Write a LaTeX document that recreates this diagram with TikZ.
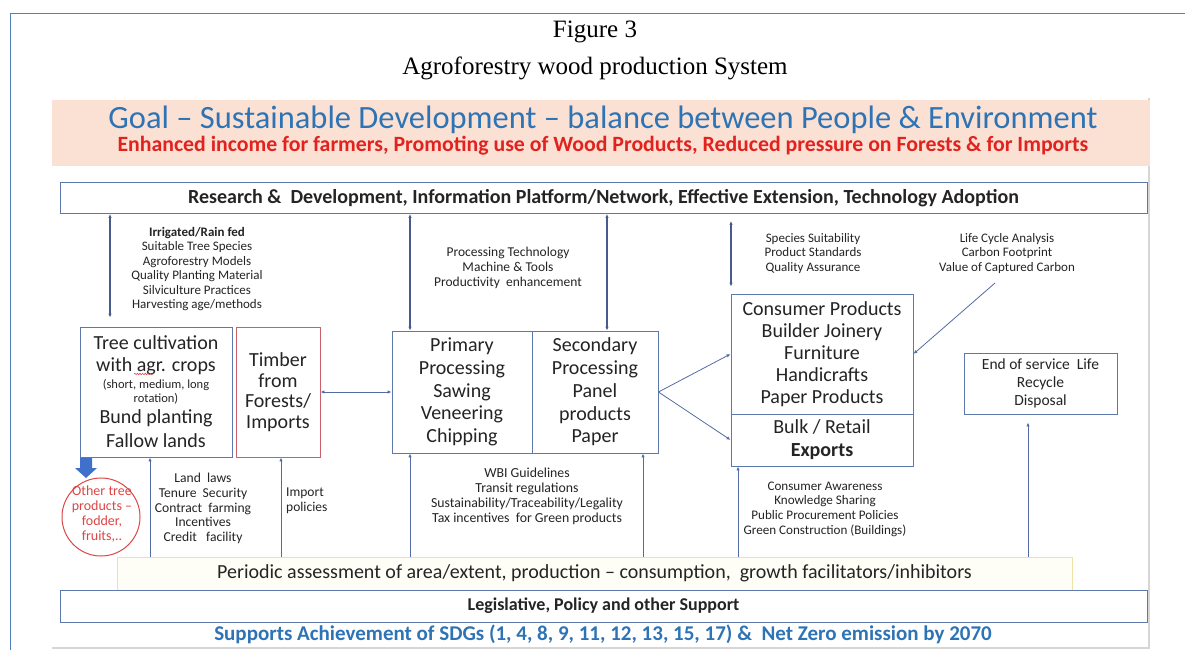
\documentclass[tikz,border=0pt]{standalone}
\usepackage{fontspec}
\setmainfont{Carlito}
\newfontfamily\titlefont{Liberation Serif}
\usetikzlibrary{arrows.meta,decorations.pathmorphing,calc}

\definecolor{frameblue}{RGB}{79,129,189}
\definecolor{goalfill}{RGB}{251,225,212}
\definecolor{goalblue}{RGB}{46,116,181}
\definecolor{goalred}{RGB}{226,34,30}
\definecolor{boxline}{RGB}{92,120,172}
\definecolor{linkline}{RGB}{84,108,165}
\definecolor{ink}{RGB}{36,36,36}
\definecolor{timberred}{RGB}{204,96,104}
\definecolor{otherred}{RGB}{222,70,70}
\definecolor{assessline}{RGB}{240,226,165}
\definecolor{assessfill}{RGB}{255,254,246}
\definecolor{arrowblue}{RGB}{62,112,204}
\definecolor{slideedge}{RGB}{214,214,214}

\newcommand\fsz[2]{\fontsize{#1}{#2}\selectfont}

\begin{document}
\begin{tikzpicture}[x=1pt,y=-1pt,
  box/.style={draw=boxline, line width=0.9pt, inner sep=0pt, align=center,
    text=ink, font=\fsz{20}{22.5}},
  note/.style={align=center, text=ink, inner sep=0pt, font=\fsz{13}{14.5}},
  tip/.tip={Latex[length=4pt,width=3.4pt]},
  link/.style={draw=linkline, line width=0.8pt, -tip},
  dlink/.style={draw=linkline!85!black, line width=1.2pt, tip-tip},
]
\useasboundingbox[fill=white] (0,0) rectangle (1185,668);

% page frame and slide edge
\draw[frameblue, line width=1pt] (10,650) -- (10,14) -- (1185,14);
\draw[slideedge, line width=1.2pt] (1149,98) -- (1149,648) -- (52,648);

% titles
\node[font=\titlefont\fsz{25}{28}, text=black] (fig) at (595,32) {Figure 3};
\node[font=\titlefont\fsz{25}{28}, text=black] (title) at (595,68) {Agroforestry wood production System};

% goal band
\node[fill=goalfill, minimum width=1098pt, minimum height=66pt, inner sep=0pt] (band) at (601,133) {};
\node[text=goalblue, font=\fsz{32.5}{34}] (goal) at (603,120)
  {Goal -- Sustainable Development -- balance between People \& Environment};
\node[text=goalred, font=\bfseries\fsz{21.8}{23}] (aims) at (603,146)
  {Enhanced income for farmers, Promoting use of Wood Products, Reduced pressure on Forests \& for Imports};

% research band
\node[box, minimum width=1087pt, minimum height=31pt, font=\bfseries\fsz{20}{22}] (rd) at (603.5,198)
  {Research \&\ \ Development, Information Platform/Network, Effective Extension, Technology Adoption};

% upper notes
\node[note] (irr) at (197,269) {\textbf{Irrigated/Rain fed}\\Suitable Tree Species\\Agroforestry Models\\Quality Planting Material\\Silviculture Practices\\Harvesting age/methods};
\node[note, font=\fsz{13.5}{14.8}] (proc) at (508,268) {Processing Technology\\Machine \& Tools\\Productivity\ \ enhancement};
\node[note] (spec) at (813,253.5) {Species Suitability\\Product Standards\\Quality Assurance};
\node[note] (lca) at (1007,253.5) {Life Cycle Analysis\\Carbon Footprint\\Value of Captured Carbon};

% main chain
\node[box, minimum width=152pt, minimum height=130pt] (tree) at (156,392) {};
\node[text=ink, font=\fsz{20}{22}] (tc1) at (156,343) {Tree cultivation};
\node[text=ink, font=\fsz{20}{22}] (tc2) at (156,366) {with agr. crops};
\node[text=ink, font=\fsz{12.5}{14}] (tc3) at (156,385) {(short, medium, long};
\node[text=ink, font=\fsz{12.5}{14}] (tc4) at (156,399) {rotation)};
\node[text=ink, font=\fsz{20}{22}] (tc5) at (156,418) {Bund planting};
\node[text=ink, font=\fsz{20}{22}] (tc6) at (156,441) {Fallow lands};
\draw[otherred, line width=0.6pt, decorate, decoration={snake, amplitude=0.7pt, segment length=2.6pt}] (134,374) -- (153,374);

\node[box, draw=timberred, minimum width=84pt, minimum height=130pt, font=\fsz{20}{20.5}] (timber) at (278,392) {Timber\\from\\Forests/\\Imports};
\node[box, minimum width=140pt, minimum height=122pt, font=\fsz{20}{22.7}] (prim) at (462,392) {Primary\\Processing\\Sawing\\Veneering\\Chipping};
\node[box, minimum width=126pt, minimum height=122pt, font=\fsz{20}{22.7}] (sec) at (595,392) {Secondary\\Processing\\Panel\\products\\Paper};
\node[box, minimum width=182pt, minimum height=120pt, font=\fsz{20}{22}] (cons) at (822,354) {Consumer Products\\Builder Joinery\\Furniture\\Handicrafts\\Paper Products};
\node[box, minimum width=182pt, minimum height=52pt, font=\fsz{20}{23}] (bulk) at (822,440) {Bulk / Retail\\\textbf{Exports}};
\node[box, minimum width=153pt, minimum height=61pt, font=\fsz{15.5}{18}] (eos) at (1040.5,383.5) {End of service\ \ Life\\Recycle\\Disposal};

% other tree products
\node[circle, draw=otherred, line width=1pt, minimum size=78pt, inner sep=0pt] (otp) at (101,517) {};
\node[text=otherred, font=\fsz{14}{15.3}, align=center, inner sep=0pt] (otptext) at (102,514) {Other tree\\products --\\fodder,\\fruits,..};
\fill[arrowblue] (80,458) -- (92,458) -- (92,468) -- (97,468) -- (86,478) -- (75,468) -- (80,468) -- cycle;

% lower notes
\node[note, font=\fsz{13.6}{14.8}] (laws) at (203,508.5) {Land\ \ laws\\Tenure\ \ Security\\Contract\ \ farming\\Incentives\\Credit\ \ \ facility};
\node[note, font=\fsz{13.5}{15}, align=left, anchor=west] (imp) at (286,500.5) {Import\\policies};
\node[note, font=\fsz{13.8}{15}] (wbi) at (527,496.5) {WBI Guidelines\\Transit regulations\\Sustainability/Traceability/Legality\\Tax incentives\ \ for Green products};
\node[note, font=\fsz{13.1}{14.7}] (aware) at (825,509) {Consumer Awareness\\Knowledge Sharing\\Public Procurement Policies\\Green Construction (Buildings)};

% bottom bands
\node[draw=assessline, fill=assessfill, line width=1pt, minimum width=955pt, minimum height=33pt, inner sep=0pt, text=ink, font=\fsz{20}{22}] (pa) at (594.5,573.5)
  {Periodic assessment of area/extent, production -- consumption,\ \ growth facilitators/inhibitors};
\node[box, minimum width=1087pt, minimum height=32pt, font=\bfseries\fsz{18}{20}] (leg) at (603.5,606) {Legislative, Policy and other Support};
\node[text=goalblue, font=\bfseries\fsz{21}{22}] (sdg) at (603,634)
  {Supports Achievement of SDGs (1, 4, 8, 9, 11, 12, 13, 15, 17) \&\ \ Net Zero emission by 2070};

% connector columns
\coordinate (xa) at (110,0);
\coordinate (xb) at (410,0);
\coordinate (xc) at (607,0);
\coordinate (xd) at (731,0);
\coordinate (xe) at (150,0);
\coordinate (xf) at (281,0);
\coordinate (xg) at (643,0);
\coordinate (xh) at (738,0);
\coordinate (xi) at (1028,0);
\coordinate (lc) at (995,283);

% research links
\draw[dlink, shorten >=9pt] (rd.south -| xa) -- (tree.north -| xa);
\draw[dlink] (rd.south -| xb) -- (prim.north -| xb);
\draw[dlink] (rd.south -| xc) -- (sec.north -| xc);
\draw[dlink, shorten <=7pt, shorten >=7pt] (rd.south -| xd) -- (cons.north -| xd);
\draw[link] (lc) -- (cons.east);

% flow links
\draw[link, tip-tip] (timber.east) -- (prim.west);
\draw[link] (sec.east) -- (cons.west);
\draw[link] (sec.east) -- (bulk.west);

% assessment links
\draw[link] (pa.north -| xe) -- (tree.south -| xe);
\draw[link] (pa.north -| xf) -- (timber.south -| xf);
\draw[link] (pa.north -| xb) -- (prim.south -| xb);
\draw[link] (pa.north -| xg) -- (sec.south -| xg);
\draw[link] (pa.north -| xh) -- (bulk.south -| xh);
\draw[link, shorten >=8pt] (pa.north -| xi) -- (eos.south -| xi);
\end{tikzpicture}
\end{document}
